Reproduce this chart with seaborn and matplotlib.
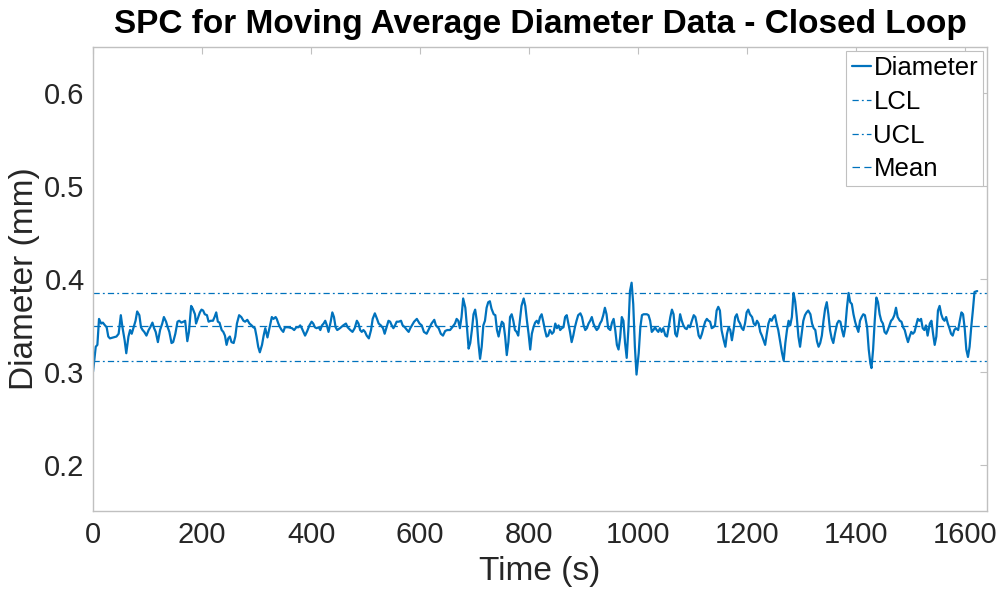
import matplotlib
matplotlib.use("Agg")
import matplotlib.pyplot as plt
import seaborn as sns

# readings, in segments
time_a = [0, 5, 8, 11, 15, 18, 22, 25, 28, 31, 37, 43, 47, 51, 54, 58, 61, 65, 68, 71,
          74, 78, 81, 85, 88, 91, 94, 98, 102, 105, 109, 112, 115, 119, 123, 127, 130, 134, 137, 140,
          144, 147, 151, 155, 158, 162, 166, 169, 173, 176, 180, 183, 187, 189, 193, 196, 199, 202, 205, 209,
          212, 216, 220, 223, 226, 229, 232, 236, 239, 242, 245, 248, 251, 254, 258, 261, 264, 268, 272, 276,
          279, 283, 287, 291, 294, 297, 300, 303, 306, 310, 313, 316, 320, 324, 328, 331, 335]
diam_a = [0.300, 0.327, 0.329, 0.357, 0.352, 0.353, 0.350, 0.348, 0.338, 0.336,
          0.337, 0.338, 0.341, 0.361, 0.348, 0.334, 0.320, 0.338, 0.345, 0.341,
          0.347, 0.355, 0.365, 0.361, 0.348, 0.345, 0.343, 0.339, 0.345, 0.348,
          0.353, 0.347, 0.343, 0.332, 0.345, 0.352, 0.359, 0.354, 0.348, 0.343,
          0.331, 0.332, 0.341, 0.354, 0.355, 0.353, 0.354, 0.355, 0.333, 0.343,
          0.371, 0.368, 0.362, 0.352, 0.359, 0.364, 0.367, 0.366, 0.362, 0.361,
          0.354, 0.355, 0.355, 0.359, 0.364, 0.354, 0.353, 0.345, 0.343, 0.339,
          0.329, 0.336, 0.338, 0.332, 0.331, 0.338, 0.352, 0.361, 0.359, 0.355,
          0.354, 0.356, 0.352, 0.350, 0.348, 0.347, 0.338, 0.327, 0.321, 0.329,
          0.339, 0.347, 0.337, 0.348, 0.359, 0.357, 0.359]

time_b = [337, 340, 343, 346, 349, 352, 358, 365, 369, 373, 377, 380, 383, 386, 389, 393, 397, 401, 404, 407,
          410, 414, 417, 420, 423, 426, 429, 432, 436, 439, 442, 445, 448, 453, 459, 464, 467, 472, 476, 480,
          484, 487, 490, 493, 496, 499, 502, 506, 510, 513, 517, 521, 524, 528, 532, 535, 538, 542, 545, 548,
          551, 554, 557, 561, 565, 568, 572, 576, 579, 582, 585, 589, 594, 599, 603, 607, 612, 617, 621, 626,
          629, 634, 638, 642, 646, 650, 655, 659]
diam_b = [0.357, 0.352, 0.348, 0.345, 0.343, 0.348, 0.348, 0.347, 0.345, 0.348,
          0.348, 0.350, 0.347, 0.343, 0.339, 0.344, 0.350, 0.354, 0.352, 0.348,
          0.347, 0.348, 0.345, 0.350, 0.352, 0.355, 0.350, 0.343, 0.354, 0.364,
          0.359, 0.348, 0.345, 0.347, 0.350, 0.352, 0.348, 0.345, 0.343, 0.347,
          0.355, 0.352, 0.345, 0.343, 0.345, 0.343, 0.339, 0.336, 0.345, 0.357,
          0.363, 0.357, 0.352, 0.350, 0.347, 0.341, 0.347, 0.355, 0.354, 0.350,
          0.347, 0.350, 0.354, 0.354, 0.355, 0.350, 0.348, 0.345, 0.343, 0.347,
          0.350, 0.354, 0.357, 0.352, 0.350, 0.343, 0.341, 0.347, 0.352, 0.356,
          0.350, 0.347, 0.341, 0.339, 0.344, 0.345, 0.345, 0.348]

time_c = [664, 667, 670, 673, 676, 679, 683, 686, 689, 692, 695, 698, 701, 704, 707, 710, 713, 716, 719, 722,
          725, 728, 731, 735, 738, 741, 744, 747, 750, 753, 756, 759, 762, 765, 768, 771, 774, 777, 780, 783,
          786, 790, 793, 796, 799, 802, 805, 808, 811, 814, 817, 820, 823, 826, 829, 832, 835, 838, 842, 845,
          848, 851, 854, 857, 860, 863, 866, 869, 872, 875, 878, 881, 884, 887, 890, 894, 897, 900, 903, 906,
          909, 912, 915, 918, 921, 924, 927, 930, 933, 936, 939, 942, 945, 949, 952, 955, 958, 961, 964, 967,
          970, 973, 976, 979, 982, 985, 988, 991, 994, 997, 1001]
diam_c = [0.352, 0.357, 0.355, 0.347, 0.359, 0.379, 0.369, 0.348, 0.325, 0.331,
          0.345, 0.362, 0.367, 0.355, 0.331, 0.314, 0.327, 0.350, 0.355, 0.369,
          0.375, 0.376, 0.368, 0.362, 0.361, 0.345, 0.338, 0.347, 0.354, 0.352,
          0.338, 0.318, 0.332, 0.359, 0.362, 0.355, 0.345, 0.343, 0.339, 0.355,
          0.371, 0.379, 0.371, 0.355, 0.341, 0.324, 0.341, 0.348, 0.353, 0.355,
          0.352, 0.359, 0.362, 0.354, 0.345, 0.338, 0.339, 0.345, 0.341, 0.343,
          0.352, 0.347, 0.350, 0.345, 0.347, 0.348, 0.359, 0.361, 0.352, 0.343,
          0.332, 0.339, 0.348, 0.355, 0.361, 0.363, 0.359, 0.350, 0.345, 0.347,
          0.352, 0.355, 0.359, 0.352, 0.348, 0.345, 0.347, 0.352, 0.355, 0.361,
          0.369, 0.362, 0.347, 0.345, 0.353, 0.357, 0.345, 0.329, 0.324, 0.337,
          0.359, 0.355, 0.331, 0.315, 0.345, 0.387, 0.396, 0.373, 0.327, 0.297,
          0.320]

time_d = [1004, 1007, 1010, 1013, 1016, 1019, 1022, 1025, 1028, 1031, 1034, 1037, 1040, 1043, 1046, 1050, 1053, 1056, 1059, 1062,
          1065, 1068, 1071, 1074, 1077, 1080, 1083, 1086, 1089, 1092, 1095, 1098, 1102, 1105, 1108, 1111, 1114, 1117, 1120, 1123,
          1126, 1129, 1132, 1135, 1138, 1141, 1144, 1147, 1150, 1153, 1157, 1160, 1163, 1166, 1169, 1172, 1175, 1178, 1181, 1184,
          1187, 1190, 1193, 1196, 1199, 1202, 1205, 1209, 1212, 1215, 1218, 1221, 1224, 1227, 1230, 1233, 1236, 1239, 1242, 1245,
          1248, 1251, 1254, 1257, 1261, 1264, 1267, 1270, 1273, 1276, 1279, 1282, 1285, 1288, 1291, 1294, 1297, 1300, 1303, 1306,
          1309, 1312, 1316, 1319]
diam_d = [0.348, 0.361, 0.362, 0.362, 0.362, 0.361, 0.355, 0.343, 0.345, 0.348,
          0.345, 0.343, 0.347, 0.343, 0.347, 0.339, 0.338, 0.348, 0.359, 0.367,
          0.362, 0.341, 0.338, 0.348, 0.362, 0.355, 0.350, 0.347, 0.346, 0.350,
          0.348, 0.354, 0.361, 0.359, 0.350, 0.339, 0.336, 0.341, 0.348, 0.354,
          0.357, 0.355, 0.354, 0.347, 0.348, 0.350, 0.366, 0.370, 0.366, 0.345,
          0.334, 0.327, 0.341, 0.348, 0.345, 0.334, 0.345, 0.359, 0.362, 0.355,
          0.352, 0.347, 0.345, 0.352, 0.364, 0.367, 0.362, 0.359, 0.352, 0.350,
          0.355, 0.352, 0.343, 0.339, 0.334, 0.329, 0.341, 0.352, 0.357, 0.355,
          0.359, 0.361, 0.352, 0.345, 0.331, 0.320, 0.312, 0.331, 0.345, 0.355,
          0.350, 0.359, 0.385, 0.376, 0.359, 0.338, 0.327, 0.341, 0.355, 0.361,
          0.364, 0.366, 0.362, 0.352]

time_e = [1322, 1325, 1328, 1331, 1334, 1337, 1340, 1343, 1346, 1349, 1352, 1355, 1358, 1361, 1365, 1368, 1371, 1374, 1377, 1380,
          1383, 1386, 1389, 1392, 1395, 1398, 1401, 1404, 1407, 1410, 1413, 1416, 1420, 1423, 1426, 1428, 1431, 1434, 1437, 1440,
          1443, 1446, 1449, 1452, 1455, 1458, 1461, 1464, 1467, 1470, 1473, 1476, 1480, 1483, 1486, 1489, 1492, 1495, 1498, 1501,
          1504, 1507, 1510, 1513, 1516, 1519, 1522, 1525, 1528, 1531, 1535, 1538, 1541, 1544, 1547, 1550, 1553, 1556, 1559, 1562,
          1565, 1568, 1571, 1574, 1577, 1580, 1583, 1587, 1590, 1593, 1596, 1599, 1602, 1605, 1608, 1611, 1614, 1617, 1622]
diam_e = [0.347, 0.345, 0.333, 0.327, 0.331, 0.339, 0.355, 0.368, 0.375, 0.362,
          0.345, 0.336, 0.331, 0.341, 0.352, 0.355, 0.354, 0.345, 0.338, 0.348,
          0.369, 0.385, 0.375, 0.373, 0.362, 0.354, 0.348, 0.343, 0.355, 0.359,
          0.362, 0.361, 0.348, 0.324, 0.309, 0.304, 0.324, 0.355, 0.380, 0.375,
          0.362, 0.355, 0.352, 0.343, 0.341, 0.345, 0.350, 0.355, 0.357, 0.361,
          0.369, 0.359, 0.355, 0.354, 0.348, 0.345, 0.338, 0.332, 0.338, 0.343,
          0.341, 0.343, 0.350, 0.357, 0.355, 0.357, 0.347, 0.345, 0.350, 0.339,
          0.352, 0.355, 0.341, 0.329, 0.338, 0.366, 0.371, 0.362, 0.357, 0.355,
          0.359, 0.352, 0.347, 0.341, 0.339, 0.345, 0.347, 0.345, 0.355, 0.364,
          0.362, 0.347, 0.324, 0.316, 0.327, 0.348, 0.366, 0.386, 0.387]

time_s = time_a + time_b + time_c + time_d + time_e
diameter_mm = diam_a + diam_b + diam_c + diam_d + diam_e
assert len(time_s) == len(diameter_mm)

lcl = 0.312
ucl = 0.385
mean = 0.349

blue = "#0072BD"
grey_axis = "#c0c0c0"
text_col = "#262626"

sns.set_style("white")
plt.rcParams["font.family"] = ["Liberation Sans", "DejaVu Sans"]

fig = plt.figure(figsize=(9.97, 5.98), dpi=100)
ax = fig.add_axes([0.0933, 0.1455, 0.8967, 0.7759])

sns.lineplot(x=time_s, y=diameter_mm, ax=ax, color=blue, linewidth=1.6, label="Diameter")
ax.axhline(lcl, color=blue, linewidth=0.9, linestyle=(0, (5, 2.5, 1.5, 2.5)), label="LCL")
ax.axhline(ucl, color=blue, linewidth=0.9, linestyle=(0, (5, 2.5, 1.5, 2.5)), label="UCL")
ax.axhline(mean, color=blue, linewidth=0.9, linestyle=(0, (6, 3.5)), label="Mean")

ax.set_xlim(0, 1640)
ax.set_ylim(0.15, 0.65)
ax.set_xticks(range(0, 1601, 200))
ax.set_yticks([0.2, 0.3, 0.4, 0.5, 0.6])

for s in ax.spines.values():
    s.set_visible(True)
    s.set_color(grey_axis)
    s.set_linewidth(1.0)
ax.tick_params(direction="in", length=5, width=0.8, color=grey_axis,
               labelsize=21, labelcolor=text_col, top=True, right=True)
ax.tick_params(axis="x", pad=7)
ax.tick_params(axis="y", pad=6)

ax.set_xlabel("Time (s)", fontsize=24, color=text_col, labelpad=5)
ax.set_ylabel("Diameter (mm)", fontsize=24, color=text_col, labelpad=3)
ax.set_title("SPC for Moving Average Diameter Data - Closed Loop",
             fontsize=24, fontweight="bold", color="black", pad=10)

leg = ax.legend(loc="upper right", fontsize=18.5, frameon=True, fancybox=False,
                handlelength=0.75, handletextpad=0.1, borderpad=0.2, labelspacing=0.38,
                borderaxespad=0.15, framealpha=1, labelcolor="black")
leg.get_frame().set_edgecolor(grey_axis)
leg.get_frame().set_linewidth(0.8)

fig.savefig("out.png", dpi=100)
